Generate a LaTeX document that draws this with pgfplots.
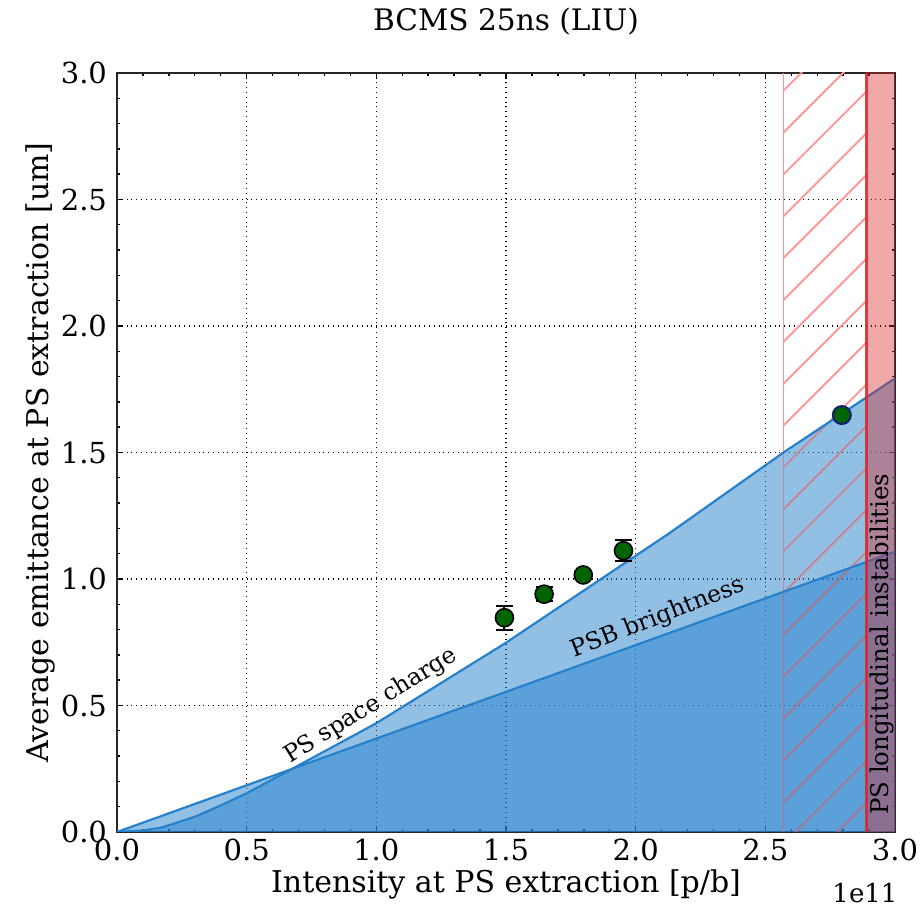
\documentclass[border=0pt]{standalone}
\usepackage{fontspec}
\setmainfont{DejaVu Serif}
\usepackage{pgfplots}
\pgfplotsset{compat=1.18}
\usetikzlibrary{patterns.meta}
\definecolor{lineblue}{RGB}{38,129,204}
\definecolor{tabred}{RGB}{214,39,40}
\definecolor{hatchred}{RGB}{255,60,60}
\definecolor{hatchA}{RGB}{255,150,150}
\definecolor{hatchB}{RGB}{196,133,153}
\definecolor{hatchC}{RGB}{166,115,146}
\definecolor{dkgreen}{RGB}{0,100,0}
\definecolor{navyedge}{RGB}{20,30,110}
\begin{document}
\begin{tikzpicture}
\path[use as bounding box] (-58.5pt,-42pt) rectangle (402.5pt,416pt);
\begin{axis}[
  scale only axis, width=389pt, height=379.5pt,
  at={(0,0)}, anchor=south west,
  xmin=0, xmax=3, ymin=0, ymax=3,
  xtick={0,0.5,1,1.5,2,2.5,3}, ytick={0,0.5,1,1.5,2,2.5,3},
  minor x tick num=4, minor y tick num=4,
  tick align=inside, xtick pos=both, ytick pos=both,
  major tick length=3pt, minor tick length=1.6pt,
  every tick/.style={black, line width=0.7pt},
  grid=major, major grid style={dotted, black, line width=0.8pt},
  axis line style={line width=1pt, black!85},
  xticklabel style={/pgf/number format/fixed, /pgf/number format/fixed zerofill, /pgf/number format/precision=1},
  yticklabel style={/pgf/number format/fixed, /pgf/number format/fixed zerofill, /pgf/number format/precision=1, xshift=-1.5pt},
  /pgf/number format/assume math mode=true,
  tick label style={font=\fontsize{14.5}{16}\selectfont},
  xlabel={Intensity at PS extraction [p/b]},
  ylabel={Average emittance at PS extraction [um]},
  label style={font=\fontsize{15}{17}\selectfont},
  xlabel style={at={(axis description cs:0.5,0)}, anchor=center, yshift=-26pt},
  ylabel style={at={(axis description cs:-0.099,0.5)}, anchor=center},
  title={BCMS 25ns (LIU)},
  title style={font=\fontsize{14.8}{17}\selectfont, at={(axis description cs:0.5,1)}, anchor=center, yshift=19.5pt},
  clip mode=individual,
]
% PS space charge fill
\addplot[draw=none, fill=lineblue, fill opacity=0.5] coordinates {
 (0,0) (0.1,0.006) (0.17,0.017) (0.3,0.06) (0.4,0.105) (0.5,0.153) (0.68,0.252) (1.0,0.43) (1.5,0.748) (2.13,1.181) (2.57,1.50) (3.0,1.793)
} \closedcycle;
% PSB brightness fill
\addplot[draw=none, fill=lineblue, fill opacity=0.5] coordinates {
 (0,0) (3.0,1.108)
} \closedcycle;
% hatched span (pattern coloured per background)
\addplot[draw=none, pattern={Lines[angle=45, distance=14.8pt, line width=0.95pt]}, pattern color=hatchA]
  coordinates {(2.57,1.50) (2.89,1.719) (2.89,3.2) (2.57,3.2)} -- cycle;
\addplot[draw=none, pattern={Lines[angle=45, distance=14.8pt, line width=0.95pt]}, pattern color=hatchB]
  coordinates {(2.57,0.949) (2.89,1.067) (2.89,1.719) (2.57,1.50)} -- cycle;
\addplot[draw=none, pattern={Lines[angle=45, distance=14.8pt, line width=0.95pt]}, pattern color=hatchC]
  coordinates {(2.57,-0.1) (2.89,-0.1) (2.89,1.067) (2.57,0.949)} -- cycle;
\addplot[hatchA, line width=0.9pt] coordinates {(2.57,1.50) (2.57,3)};
\addplot[hatchB, line width=0.9pt] coordinates {(2.57,0.949) (2.57,1.50)};
\addplot[hatchC, line width=0.9pt] coordinates {(2.57,0) (2.57,0.949)};
% lines
\addplot[lineblue, line width=1.1pt] coordinates {
 (0,0) (0.1,0.006) (0.17,0.017) (0.3,0.06) (0.4,0.105) (0.5,0.153) (0.68,0.252) (1.0,0.43) (1.5,0.748) (2.13,1.181) (2.57,1.50) (3.0,1.793)
};
\addplot[lineblue, line width=1.1pt] coordinates {(0,0) (3.0,1.108)};
% solid span
\addplot[draw=none, fill=tabred, fill opacity=0.4] coordinates {(2.89,3.2) (3.1,3.2)} \closedcycle;
\addplot[tabred, opacity=0.85, line width=1.1pt] coordinates {(2.89,0) (2.89,3)};
% data with error bars
\addplot[only marks, mark=*, mark size=4.5pt, mark options={fill=dkgreen, draw=black, line width=0.8pt},
  error bars/.cd, y dir=both, y explicit, error mark=-,
  error bar style={draw=black, line width=1pt},
  error mark options={rotate=90, draw=black, line width=1pt, mark size=4.3pt}]
  coordinates {(1.494,0.847) +- (0,0.048) (1.647,0.940) +- (0,0.028) (1.798,1.016) +- (0,0.015) (1.953,1.112) +- (0,0.042)};
\addplot[only marks, mark=*, mark size=4.5pt, mark options={fill=dkgreen, draw=navyedge, line width=1pt}]
  coordinates {(2.795,1.648)};
% labels
\node[rotate=32, font=\fontsize{11.8}{14}\selectfont] at (axis cs:0.98,0.498) {PS space charge};
\node[rotate=21.5, font=\fontsize{11.8}{14}\selectfont] at (axis cs:2.086,0.846) {PSB brightness};
\node[rotate=90, anchor=west, font=\fontsize{12.2}{14}\selectfont] at (axis cs:2.949,0.04) {PS longitudinal instabilities};
\node[font=\fontsize{13}{15}\selectfont] at (rel axis cs:1,0) [xshift=-15pt, yshift=-30.5pt] {1e11};
\end{axis}
\end{tikzpicture}
\end{document}
